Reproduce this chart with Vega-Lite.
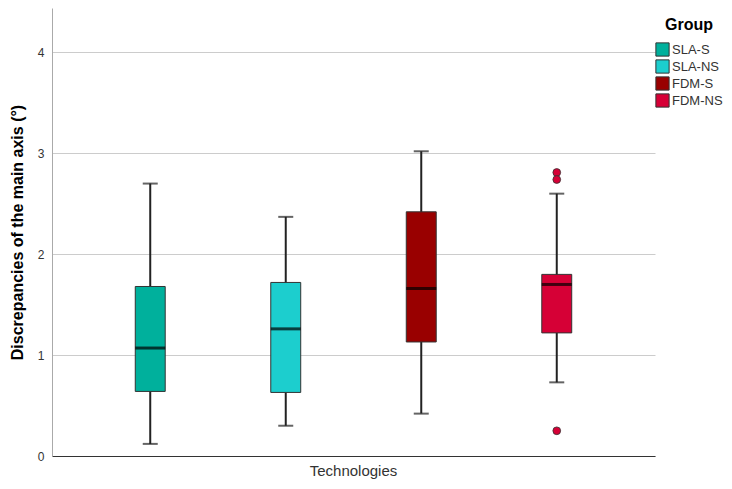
{
  "$schema": "https://vega.github.io/schema/vega-lite/v6.json",
  "autosize": "none",
  "width": 603,
  "height": 448,
  "padding": {"left": 52, "top": 8, "right": 77, "bottom": 33},
  "background": "white",
  "config": {
    "font": "Liberation Sans",
    "view": {"stroke": null},
    "axis": {"labelFont": "Liberation Sans", "titleFont": "Liberation Sans"},
    "legend": {"labelFont": "Liberation Sans", "titleFont": "Liberation Sans"}
  },
  "datasets": {
    "stats": [
      {"cat": "Technologies", "group": "SLA-S", "lo": 0.12, "q1": 0.64, "med": 1.07, "q3": 1.68, "hi": 2.70},
      {"cat": "Technologies", "group": "SLA-NS", "lo": 0.30, "q1": 0.63, "med": 1.26, "q3": 1.72, "hi": 2.37},
      {"cat": "Technologies", "group": "FDM-S", "lo": 0.42, "q1": 1.13, "med": 1.66, "q3": 2.42, "hi": 3.02},
      {"cat": "Technologies", "group": "FDM-NS", "lo": 0.73, "q1": 1.22, "med": 1.70, "q3": 1.80, "hi": 2.60}
    ],
    "outliers": [
      {"cat": "Technologies", "group": "FDM-NS", "value": 2.81},
      {"cat": "Technologies", "group": "FDM-NS", "value": 2.74},
      {"cat": "Technologies", "group": "FDM-NS", "value": 0.25}
    ]
  },
  "encoding": {
    "x": {
      "field": "cat", "type": "nominal", "title": null,
      "scale": {"paddingInner": 0, "paddingOuter": 0},
      "axis": {"domainColor": "#333333", "domainWidth": 1, "ticks": false, "labelAngle": 0, "labelFontSize": 15, "labelColor": "#333333", "labelPadding": 7, "grid": false}
    },
    "xOffset": {
      "field": "group", "type": "nominal",
      "sort": ["SLA-S", "SLA-NS", "FDM-S", "FDM-NS"],
      "scale": {"paddingInner": 0.779, "paddingOuter": 0.6145}
    }
  },
  "layer": [
    {
      "data": {"name": "stats"},
      "mark": {"type": "rule", "color": "#222222", "strokeWidth": 2},
      "encoding": {
        "y": {
          "field": "lo", "type": "quantitative",
          "title": "Discrepancies of the main axis (°)",
          "scale": {"domain": [0, 4.44], "nice": false, "zero": true},
          "axis": {
            "values": [0, 1, 2, 3, 4], "format": "d", "ticks": false, "domainColor": "#aaaaaa", "domainWidth": 1,
            "gridColor": "#cccccc", "gridWidth": 1, "labelFontSize": 12, "labelColor": "#333333",
            "labelPadding": 8, "titleFontSize": 16, "titleFontWeight": "bold", "titleColor": "#000000", "titlePadding": 12
          }
        },
        "y2": {"field": "hi"}
      }
    },
    {
      "data": {"name": "stats"},
      "mark": {"type": "tick", "color": "#222222", "thickness": 2, "size": 15},
      "encoding": {"y": {"field": "lo", "type": "quantitative"}}
    },
    {
      "data": {"name": "stats"},
      "mark": {"type": "tick", "color": "#222222", "thickness": 2, "size": 15},
      "encoding": {"y": {"field": "hi", "type": "quantitative"}}
    },
    {
      "data": {"name": "stats"},
      "mark": {"type": "bar", "stroke": "#333333", "strokeWidth": 1, "opacity": 1},
      "encoding": {
        "y": {"field": "q1", "type": "quantitative"},
        "y2": {"field": "q3"},
        "color": {
          "field": "group", "type": "nominal",
          "sort": ["SLA-S", "SLA-NS", "FDM-S", "FDM-NS"],
          "scale": {"domain": ["SLA-S", "SLA-NS", "FDM-S", "FDM-NS"], "range": ["#00B09C", "#1CCECE", "#990000", "#D60036"]},
          "legend": {
            "title": "Group", "orient": "none", "legendX": 603, "legendY": 9,
            "titleFontSize": 16, "titleFontWeight": "bold", "titleColor": "#000000",
            "titleAnchor": "middle", "titleAlign": "center", "titlePadding": 9,
            "labelFontSize": 13, "labelColor": "#333333", "labelOffset": 2,
            "symbolType": "square", "symbolSize": 175, "symbolStrokeColor": "#333333", "symbolStrokeWidth": 1,
            "symbolOpacity": 1, "rowPadding": -2
          }
        }
      }
    },
    {
      "data": {"name": "stats"},
      "mark": {"type": "tick", "color": "#000000", "thickness": 3, "size": 30},
      "encoding": {"y": {"field": "med", "type": "quantitative"}}
    },
    {
      "data": {"name": "outliers"},
      "mark": {"type": "point", "filled": true, "size": 60, "stroke": "#333333", "strokeWidth": 0.8, "opacity": 1},
      "encoding": {
        "y": {"field": "value", "type": "quantitative"},
        "color": {"field": "group", "type": "nominal"}
      }
    }
  ]
}
